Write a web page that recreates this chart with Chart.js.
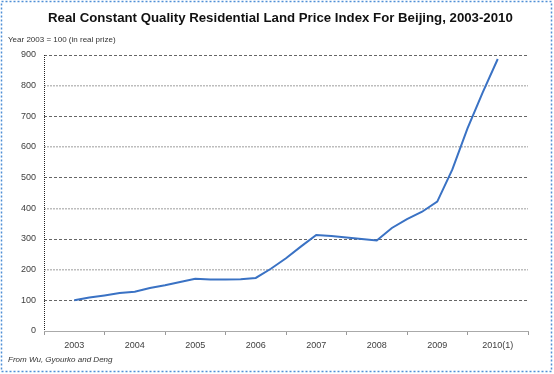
<!DOCTYPE html>
<html>
<head>
<meta charset="utf-8">
<script src="https://cdn.jsdelivr.net/npm/chart.js@4"></script>
<style>
  html, body { margin: 0; padding: 0; background: #fff; }
  #wrap { width: 554px; height: 374px; }
</style>
</head>
<body>
<div id="wrap"><canvas id="chart" width="554" height="374"></canvas></div>
<script>
const titleText = "Real Constant Quality Residential Land Price Index For Beijing, 2003-2010";
const unitText = "Year 2003 = 100 (in real prize)";
const sourceText = "From Wu, Gyourko and Deng";

const yearLabels = ["2003", "2004", "2005", "2006", "2007", "2008", "2009", "2010(1)"];
const firstYear = 2003;

// quarterly readings, 2003 Q1 .. 2010 Q1
const quarterLabels = [
  "2003Q1", "2003Q2", "2003Q3", "2003Q4",
  "2004Q1", "2004Q2", "2004Q3", "2004Q4",
  "2005Q1", "2005Q2", "2005Q3", "2005Q4",
  "2006Q1", "2006Q2", "2006Q3", "2006Q4",
  "2007Q1", "2007Q2", "2007Q3", "2007Q4",
  "2008Q1", "2008Q2", "2008Q3", "2008Q4",
  "2009Q1", "2009Q2", "2009Q3", "2009Q4",
  "2010Q1"
];
const priceIndex = [
  100, 109, 116, 124,
  128, 140, 149, 160,
  170, 168, 168, 169,
  173, 203, 237, 276,
  313, 310, 305, 300,
  295, 336, 365, 389,
  422, 527, 661, 777,
  887
];

const yTicks = [0, 100, 200, 300, 400, 500, 600, 700, 800, 900];

function quarterToX(label)
{
  const year = parseInt(label.slice(0, 4), 10);
  const q = parseInt(label.slice(5), 10);
  return year + (q - 1) / 4;
}

const points = quarterLabels.map((q, i) => ({x: quarterToX(q), y: priceIndex[i]}));

const textPlugin = {
  id: "texts",
  afterDraw(chart)
  {
    const ctx = chart.ctx;
    const area = chart.chartArea;
    ctx.save();

    // dotted y axis line
    ctx.strokeStyle = "#222";
    ctx.lineWidth = 1;
    ctx.setLineDash([1, 1]);
    ctx.beginPath();
    ctx.moveTo(Math.round(area.left) + 0.5, area.top);
    ctx.lineTo(Math.round(area.left) + 0.5, area.bottom);
    ctx.stroke();

    ctx.setLineDash([]);
    ctx.fillStyle = "#111";
    ctx.textBaseline = "middle";
    ctx.textAlign = "left";
    let size = 14;
    ctx.font = "bold " + size + "px 'Liberation Sans', sans-serif";
    size = size * 465 / ctx.measureText(titleText).width;
    ctx.font = "bold " + size.toFixed(2) + "px 'Liberation Sans', sans-serif";
    ctx.fillText(titleText, 48, 18);

    ctx.fillStyle = "#333";
    ctx.font = "8px 'Liberation Sans', sans-serif";
    ctx.fillText(unitText, 8, 40);

    ctx.font = "italic 8px 'Liberation Sans', sans-serif";
    ctx.fillText(sourceText, 8, 360);

    ctx.strokeStyle = "#4f8fd6";
    ctx.lineWidth = 1.5;
    ctx.setLineDash([2, 2]);
    ctx.strokeRect(1.5, 1.5, 550, 370);
    ctx.restore();
  }
};

new Chart(document.getElementById("chart"), {
  type: "line",
  data: {
    datasets: [{
      data: points,
      borderColor: "#3a72c4",
      borderWidth: 2,
      pointRadius: 0,
      tension: 0,
    }]
  },
  options: {
    responsive: false,
    animation: false,
    devicePixelRatio: 1,
    layout: {padding: {top: 55, right: 26, left: 0, bottom: 0}},
    plugins: {
      legend: {display: false},
      tooltip: {enabled: false},
    },
    scales: {
      x: {
        type: "linear",
        min: firstYear - 0.5,
        max: firstYear + yearLabels.length - 0.5,
        afterFit(scale) { scale.height = 43; },
        afterBuildTicks(scale)
        {
          const ticks = [];
          for (let i = 0; i <= yearLabels.length * 2; i++)
            ticks.push({value: firstYear - 0.5 + i / 2});
          scale.ticks = ticks;
        },
        ticks: {
          autoSkip: false,
          maxRotation: 0,
          padding: 5,
          color: "#404040",
          font: {family: "'Liberation Sans', sans-serif", size: 9},
          callback(value)
          {
            if (!Number.isInteger(value)) return "";
            return yearLabels[value - firstYear];
          },
        },
        grid: {
          drawOnChartArea: false,
          drawTicks: true,
          tickLength: 4,
          tickColor(ctx)
          {
            return ctx.tick && Number.isInteger(ctx.tick.value) ? "rgba(0,0,0,0)" : "#999";
          },
        },
        border: {color: "#aaa", width: 1},
      },
      y: {
        min: 0,
        max: 900,
        afterFit(scale) { scale.width = 44; },
        afterBuildTicks(scale)
        {
          scale.ticks = yTicks.map(v => ({value: v}));
        },
        ticks: {
          padding: 8,
          color: "#404040",
          font: {family: "'Liberation Sans', sans-serif", size: 9},
        },
        grid: {
          drawTicks: false,
          lineWidth(ctx)
          {
            if (!ctx.tick) return 1;
            return ctx.tick.value % 200 === 0 ? 1.5 : 1;
          },
          color(ctx)
          {
            if (!ctx.tick || ctx.tick.value === 0) return "rgba(0,0,0,0)";
            return ctx.tick.value % 200 === 100 ? "#666" : "#bdbdbd";
          },
        },
        border: {
          display: false,
          dash(ctx)
          {
            if (!ctx.tick) return [];
            return ctx.tick.value % 200 === 100 ? [3, 2] : [2, 1];
          },
        },
      },
    },
  },
  plugins: [textPlugin],
});
</script>
</body>
</html>
